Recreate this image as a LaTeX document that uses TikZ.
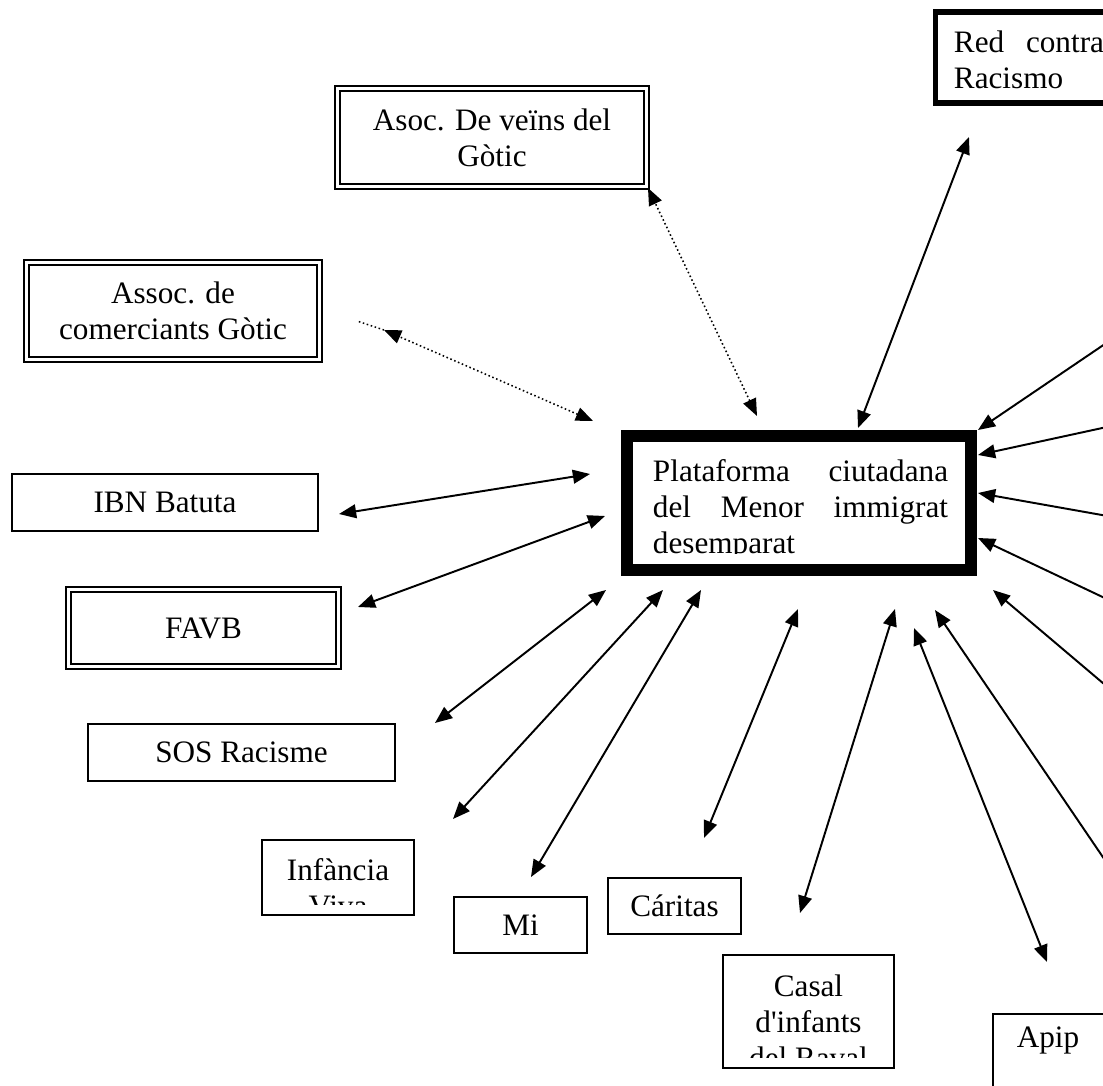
\documentclass[tikz,border=0pt]{standalone}
\usepackage{fontspec}
\setmainfont{Liberation Serif}[Ligatures=TeXOff]
\usetikzlibrary{arrows.meta}

\begin{document}
\begin{tikzpicture}[x=0.3846pt, y=-0.3846pt, >={Triangle[length=6.6pt, width=5.3pt]}, line width=0.75pt,
		every node/.style={font=\fontsize{12}{13.8}\selectfont, inner sep=0pt}]
			\tikzstyle{entitat}=[draw, line width=0.8pt]
			\tikzstyle{doble}=[draw, double, line width=0.75pt, double distance=1.2pt]
			\tikzstyle{central}=[draw, line width=4.6pt]
			\tikzstyle{puntejada}=[<->, densely dotted, line width=0.6pt]
			\useasboundingbox (0,0) rectangle (1103,1086);

			% entitats
			\node[central, minimum width=132.3pt, minimum height=51.5pt] (plataforma) at (799,503) {};
			\begin{scope}
				\clip (633,442) rectangle (965,554);
				\node[text width=113.5pt, align=left, anchor=north west] (plataformaText) at (652,458.7)
					{Plataforma\hfill ciutadana\\del\hfill Menor\hfill immigrat\\desemparat};
			\end{scope}
			\node[entitat, line width=2pt, minimum width=101.7pt, minimum height=35pt] (red) at (1067.75,57.5) {};
			\node[text width=57.7pt, align=left, anchor=north west] (redText) at (953,30) {Red\hfill contra\\Racismo};
			\node[doble, minimum width=118.8pt, minimum height=37.7pt, align=center] (veins) at (492,137.5) {Asoc. De veïns del\\Gòtic};
			\node[doble, minimum width=112.7pt, minimum height=37.3pt, align=center] (comerciants) at (173,311) {Assoc. de\\comerciants Gòtic};
			\node[entitat, minimum width=117.7pt, minimum height=21.9pt] (ibn) at (165,502.5) {IBN Batuta};
			\node[doble, minimum width=103.8pt, minimum height=29.6pt] (favb) at (203.5,628) {FAVB};
			\node[entitat, minimum width=118.1pt, minimum height=21.9pt] (sos) at (241.5,752.5) {SOS Racisme};
			\node[entitat, minimum width=58.5pt, minimum height=28.8pt] (infancia) at (338,877.5) {};
			\begin{scope}
				\clip (263,841) rectangle (413,905);
				\node[align=center, anchor=north] (infanciaText) at (338,857.5) {Infància\\Viva};
			\end{scope}
			\node[entitat, minimum width=51.2pt, minimum height=21.5pt] (mi) at (520.5,925) {Mi};
			\node[entitat, minimum width=51.2pt, minimum height=21.5pt] (caritas) at (674.5,906) {Cáritas};
			\node[entitat, minimum width=65.8pt, minimum height=43.5pt] (casal) at (808.5,1011.5) {};
			\begin{scope}
				\clip (724,956) rectangle (893,1058);
				\node[align=center, anchor=north] (casalText) at (808.5,973.7) {Casal\\d'infants\\del Raval};
			\end{scope}
			\node[entitat, minimum width=43.5pt, minimum height=33.1pt] (apip) at (1049.5,1057) {};
			\node[anchor=north] (apipText) at (1048,1025.7) {Apip};

			% extrems de les fletxes
			\coordinate (redP) at (858,428);   \coordinate (redE) at (969,137);
			\coordinate (ibnP) at (590,474);   \coordinate (ibnE) at (339,514);
			\coordinate (favbP) at (605,516);  \coordinate (favbE) at (358,607);
			\coordinate (sosP) at (606,590);   \coordinate (sosE) at (435,723);
			\coordinate (infP) at (663,590);   \coordinate (infE) at (453,819);
			\coordinate (miP) at (701,590);    \coordinate (miE) at (531,877);
			\coordinate (carP) at (798,609);   \coordinate (carE) at (704,838);
			\coordinate (casP) at (895,609);   \coordinate (casE) at (800,913);
			\coordinate (apipP) at (914,628);  \coordinate (apipE) at (1047,962);
			\coordinate (veinsP) at (757,416); \coordinate (veinsE) at (648,188);
			\coordinate (comP) at (593,421);   \coordinate (comE) at (384,330);
			\coordinate (comQ) at (357,321);
			\coordinate (dreta1P) at (978,430); \coordinate (dreta1) at (1130,327);
			\coordinate (dreta2P) at (978,455); \coordinate (dreta2) at (1130,422);
			\coordinate (dreta3P) at (978,493); \coordinate (dreta3) at (1130,520);
			\coordinate (dreta4P) at (978,538); \coordinate (dreta4) at (1130,610);
			\coordinate (dreta5P) at (993,590); \coordinate (dreta5) at (1130,706);
			\coordinate (dreta6P) at (935,610); \coordinate (dreta6) at (1130,897);

			\path[<->]
			(redP) edge (redE)
			(ibnP) edge (ibnE)
			(favbP) edge (favbE)
			(sosP) edge (sosE)
			(infP) edge (infE)
			(miP) edge (miE)
			(carP) edge (carE)
			(casP) edge (casE)
			(apipP) edge (apipE);
			\path[<-]
			(dreta1P) edge (dreta1)
			(dreta2P) edge (dreta2)
			(dreta3P) edge (dreta3)
			(dreta4P) edge (dreta4)
			(dreta5P) edge (dreta5)
			(dreta6P) edge (dreta6);
			\draw[puntejada] (veinsP) -- (veinsE);
			\draw[puntejada] (comP) -- (comE);
			\draw[densely dotted, line width=0.6pt] (comE) -- (comQ);
		\end{tikzpicture}
\end{document}
